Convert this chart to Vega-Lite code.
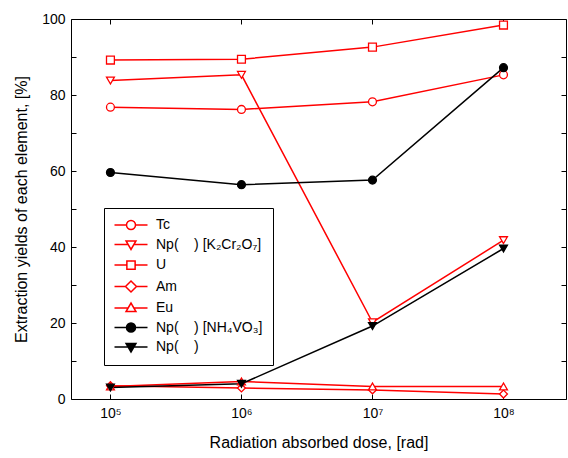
{
  "$schema": "https://vega.github.io/schema/vega-lite/v6.json",
  "width": 495,
  "height": 380,
  "autosize": "none",
  "padding": {"left": 71, "top": 19, "right": 2, "bottom": 59},
  "background": "white",
  "config": {
    "font": "Liberation Sans",
    "view": {"stroke": "black", "strokeWidth": 1},
    "axis": {
      "grid": false,
      "domain": false,
      "tickColor": "black",
      "tickWidth": 1,
      "tickSize": -5,
      "labelFont": "Liberation Sans",
      "labelFontSize": 14,
      "labelColor": "black",
      "titleFont": "Liberation Sans",
      "titleFontSize": 16,
      "titleFontWeight": "normal",
      "titleColor": "black"
    },
    "legend": {
      "labelFont": "Liberation Sans",
      "labelFontSize": 14,
      "labelColor": "black"
    }
  },
  "data": {
    "values": [
      {"dose": 100000, "series": "Tc", "value": 76.8},
      {"dose": 1000000, "series": "Tc", "value": 76.2},
      {"dose": 10000000, "series": "Tc", "value": 78.2},
      {"dose": 100000000, "series": "Tc", "value": 85.3},
      {"dose": 100000, "series": "NpK", "value": 83.8},
      {"dose": 1000000, "series": "NpK", "value": 85.3},
      {"dose": 10000000, "series": "NpK", "value": 20.2},
      {"dose": 100000000, "series": "NpK", "value": 41.8},
      {"dose": 100000, "series": "U", "value": 89.2},
      {"dose": 1000000, "series": "U", "value": 89.4},
      {"dose": 10000000, "series": "U", "value": 92.6},
      {"dose": 100000000, "series": "U", "value": 98.4},
      {"dose": 100000, "series": "Am", "value": 3.5},
      {"dose": 1000000, "series": "Am", "value": 2.9},
      {"dose": 10000000, "series": "Am", "value": 2.4},
      {"dose": 100000000, "series": "Am", "value": 1.3},
      {"dose": 100000, "series": "Eu", "value": 3.3},
      {"dose": 1000000, "series": "Eu", "value": 4.6},
      {"dose": 10000000, "series": "Eu", "value": 3.3},
      {"dose": 100000000, "series": "Eu", "value": 3.3},
      {"dose": 100000, "series": "NpNH4", "value": 59.6},
      {"dose": 1000000, "series": "NpNH4", "value": 56.4},
      {"dose": 10000000, "series": "NpNH4", "value": 57.6},
      {"dose": 100000000, "series": "NpNH4", "value": 87.2},
      {"dose": 100000, "series": "Np", "value": 3.0},
      {"dose": 1000000, "series": "Np", "value": 4.0},
      {"dose": 10000000, "series": "Np", "value": 19.2},
      {"dose": 100000000, "series": "Np", "value": 39.6}
    ]
  },
  "resolve": {
    "scale": {"shape": "independent", "fill": "independent", "stroke": "independent"},
    "axis": {"x": "independent", "y": "independent"}
  },
  "layer": [
    {
      "mark": {"type": "line", "strokeWidth": 1.5},
      "encoding": {
        "x": {
          "field": "dose", "type": "quantitative",
          "scale": {"type": "log", "domain": [50000, 300000000], "nice": false},
          "axis": {
            "orient": "bottom",
            "values": [100000, 1000000, 10000000, 100000000],
            "labelExpr": "'10' + ['⁰','¹','²','³','⁴','⁵','⁶','⁷','⁸','⁹'][round(log(datum.value)/LN10)]",
            "labelPadding": 12,
            "title": "Radiation absorbed dose, [rad]",
            "titlePadding": 14
          }
        },
        "y": {
          "field": "value", "type": "quantitative",
          "scale": {"domain": [0, 100], "nice": false},
          "axis": {
            "orient": "left",
            "values": [0, 10, 20, 30, 40, 50, 60, 70, 80, 90, 100],
            "labelExpr": "datum.value % 20 == 0 ? datum.label : ''",
            "labelPadding": 11,
            "title": "Extraction yields of each element, [%]",
            "titlePadding": 12
          }
        },
        "stroke": {
          "field": "series", "type": "nominal",
          "scale": {
            "domain": ["Tc", "NpK", "U", "Am", "Eu", "NpNH4", "Np"],
            "range": ["#ff0000", "#ff0000", "#ff0000", "#ff0000", "#ff0000", "#000000", "#000000"]
          },
          "legend": null
        }
      }
    },
    {
      "mark": {"type": "point", "strokeWidth": 1.3, "size": 62, "opacity": 1},
      "encoding": {
        "x": {
          "field": "dose", "type": "quantitative",
          "axis": {"orient": "top", "values": [100000, 1000000, 10000000, 100000000], "labels": false, "title": null}
        },
        "y": {
          "field": "value", "type": "quantitative",
          "axis": {"orient": "right", "values": [0, 10, 20, 30, 40, 50, 60, 70, 80, 90, 100], "labels": false, "title": null}
        },
        "shape": {
          "field": "series", "type": "nominal",
          "scale": {
            "domain": ["Tc", "NpK", "U", "Am", "Eu", "NpNH4", "Np"],
            "range": ["circle", "triangle-down", "square", "diamond", "triangle-up", "circle", "triangle-down"]
          },
          "legend": null
        },
        "fill": {
          "field": "series", "type": "nominal",
          "scale": {
            "domain": ["Tc", "NpK", "U", "Am", "Eu", "NpNH4", "Np"],
            "range": ["#ffffff", "#ffffff", "#ffffff", "#ffffff", "#ffffff", "#000000", "#000000"]
          },
          "legend": null
        },
        "stroke": {
          "field": "series", "type": "nominal",
          "scale": {
            "domain": ["Tc", "NpK", "U", "Am", "Eu", "NpNH4", "Np"],
            "range": ["#ff0000", "#ff0000", "#ff0000", "#ff0000", "#ff0000", "#000000", "#000000"]
          },
          "legend": null
        }
      }
    },
    {
      "transform": [{"filter": "datum.value < -1000"}],
      "mark": {"type": "point", "strokeWidth": 1.5, "size": 121, "opacity": 1},
      "encoding": {
        "x": {"field": "dose", "type": "quantitative", "axis": null},
        "y": {"field": "value", "type": "quantitative", "axis": null},
        "shape": {
          "field": "series", "type": "nominal", "title": null,
          "scale": {
            "domain": ["Tc", "NpK", "U", "Am", "Eu", "NpNH4", "Np"],
            "range": [
              "M-3,0H-0.82M0.82,0H3M-0.82,0A0.82,0.82,0,1,0,0.82,0A0.82,0.82,0,1,0,-0.82,0Z",
              "M-3,0H-0.55M0.55,0H3M-0.9,-0.65H0.9L0,0.9Z",
              "M-3,0H-0.75M0.75,0H3M-0.75,-0.75H0.75V0.75H-0.75Z",
              "M-3,0H-1M1,0H3M-1,0L0,-1L1,0L0,1Z",
              "M-3,0H-0.55M0.55,0H3M-0.9,0.65H0.9L0,-0.9Z",
              "M-3,0H3M-0.82,0A0.82,0.82,0,1,0,0.82,0A0.82,0.82,0,1,0,-0.82,0Z",
              "M-3,0H3M-0.9,-0.65H0.9L0,0.9Z"
            ]
          },
          "legend": {
            "orient": "none", "legendX": 33, "legendY": 189,
            "padding": 10, "strokeColor": "black", "fillColor": "white",
            "symbolSize": 121, "symbolStrokeWidth": 1.5, "symbolOffset": 10, "labelOffset": 18,
            "rowPadding": 4.5,
            "labelExpr": "{'Tc':'Tc','NpK':'Np(\u00a0\u00a0\u00a0\u00a0) [K₂Cr₂O₇]','U':'U','Am':'Am','Eu':'Eu','NpNH4':'Np(\u00a0\u00a0\u00a0\u00a0) [NH₄VO₃]','Np':'Np(\u00a0\u00a0\u00a0\u00a0)'}[datum.value]"
          }
        },
        "fill": {
          "field": "series", "type": "nominal", "title": null,
          "scale": {
            "domain": ["Tc", "NpK", "U", "Am", "Eu", "NpNH4", "Np"],
            "range": ["#ffffff", "#ffffff", "#ffffff", "#ffffff", "#ffffff", "#000000", "#000000"]
          },
          "legend": {
            "orient": "none", "legendX": 33, "legendY": 189,
            "padding": 10, "strokeColor": "black", "fillColor": "white",
            "symbolSize": 121, "symbolStrokeWidth": 1.5, "symbolOffset": 10, "labelOffset": 18,
            "rowPadding": 4.5,
            "labelExpr": "{'Tc':'Tc','NpK':'Np(\u00a0\u00a0\u00a0\u00a0) [K₂Cr₂O₇]','U':'U','Am':'Am','Eu':'Eu','NpNH4':'Np(\u00a0\u00a0\u00a0\u00a0) [NH₄VO₃]','Np':'Np(\u00a0\u00a0\u00a0\u00a0)'}[datum.value]"
          }
        },
        "stroke": {
          "field": "series", "type": "nominal", "title": null,
          "scale": {
            "domain": ["Tc", "NpK", "U", "Am", "Eu", "NpNH4", "Np"],
            "range": ["#ff0000", "#ff0000", "#ff0000", "#ff0000", "#ff0000", "#000000", "#000000"]
          },
          "legend": {
            "orient": "none", "legendX": 33, "legendY": 189,
            "padding": 10, "strokeColor": "black", "fillColor": "white",
            "symbolSize": 121, "symbolStrokeWidth": 1.5, "symbolOffset": 10, "labelOffset": 18,
            "rowPadding": 4.5,
            "labelExpr": "{'Tc':'Tc','NpK':'Np(\u00a0\u00a0\u00a0\u00a0) [K₂Cr₂O₇]','U':'U','Am':'Am','Eu':'Eu','NpNH4':'Np(\u00a0\u00a0\u00a0\u00a0) [NH₄VO₃]','Np':'Np(\u00a0\u00a0\u00a0\u00a0)'}[datum.value]"
          }
        }
      }
    }
  ]
}
